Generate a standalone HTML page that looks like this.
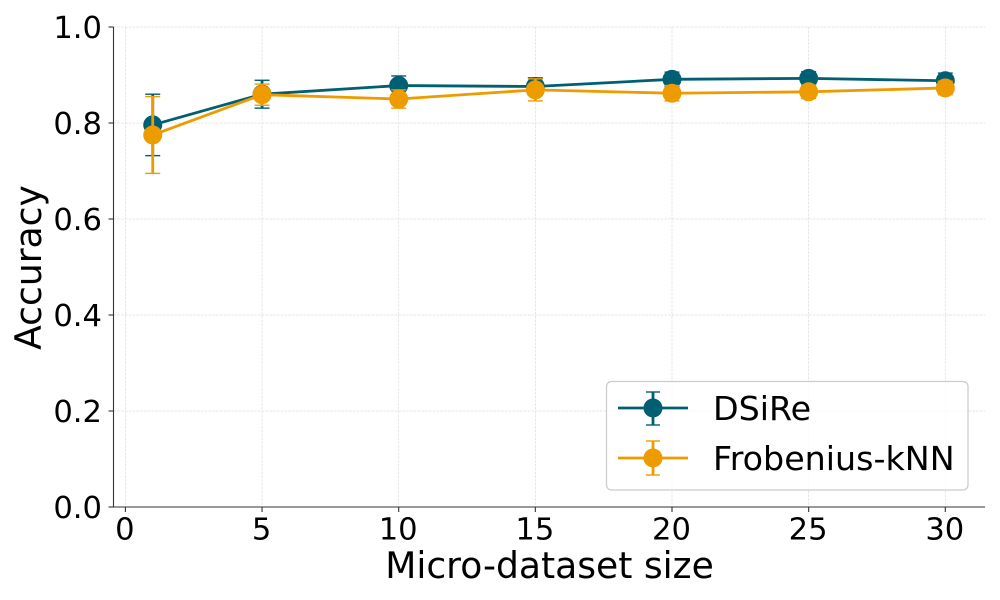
<!DOCTYPE html>
<html>
<head>
<meta charset="utf-8">
<style>
html,body{margin:0;padding:0;background:#fff;}
svg{display:block;}
text{font-family:"DejaVu Sans","Liberation Sans",sans-serif;fill:#000;}
</style>
</head>
<body>
<svg id="chart" width="1000" height="600" viewBox="0 0 1000 600" xmlns="http://www.w3.org/2000/svg">
  <g id="grid"></g>
  <g id="series"></g>
  <g id="axes"></g>
  <text x="549.5" y="578" font-size="36.1" text-anchor="middle">Micro-dataset size</text>
  <text x="0" y="0" font-size="36.1" text-anchor="middle" transform="translate(41,267.5) rotate(-90)">Accuracy</text>
  <g>
    <rect x="606.5" y="381.5" width="361.5" height="108.5" rx="5" ry="5" fill="#fff" fill-opacity="0.8" stroke="#ccc" stroke-width="1.3"/>
    <g>
      <line x1="618" x2="688" y1="408" y2="408" stroke="#005f73" stroke-width="2.8"/>
      <line x1="653" x2="653" y1="392" y2="425" stroke="#005f73" stroke-width="2.8"/>
      <line x1="646" x2="660" y1="392" y2="392" stroke="#005f73" stroke-width="1.4"/>
      <line x1="646" x2="660" y1="425" y2="425" stroke="#005f73" stroke-width="1.4"/>
      <circle cx="653" cy="408" r="9.5" fill="#005f73"/>
      <text x="713" y="420" font-size="33.3">DSiRe</text>
    </g>
    <g>
      <line x1="618" x2="688" y1="458" y2="458" stroke="#ee9b00" stroke-width="2.8"/>
      <line x1="653" x2="653" y1="441" y2="475" stroke="#ee9b00" stroke-width="2.8"/>
      <line x1="646" x2="660" y1="441" y2="441" stroke="#ee9b00" stroke-width="1.4"/>
      <line x1="646" x2="660" y1="475" y2="475" stroke="#ee9b00" stroke-width="1.4"/>
      <circle cx="653" cy="458" r="9.5" fill="#ee9b00"/>
      <text x="713" y="470" font-size="33.3">Frobenius-kNN</text>
    </g>
  </g>
</svg>
<script>
const sizes = [1, 5, 10, 15, 20, 25, 30];
const dsireAccuracy = [0.796, 0.860, 0.878, 0.876, 0.891, 0.893, 0.888];
const dsireError = [0.064, 0.029, 0.020, 0.018, 0.015, 0.014, 0.016];
const frobeniusAccuracy = [0.775, 0.859, 0.850, 0.869, 0.862, 0.865, 0.873];
const frobeniusError = [0.080, 0.022, 0.019, 0.023, 0.016, 0.014, 0.014];
const xTicks = [0, 5, 10, 15, 20, 25, 30];
const yTicks = [0.0, 0.2, 0.4, 0.6, 0.8, 1.0];

const NS = 'http://www.w3.org/2000/svg';
const plotLeft = 113.5, plotRight = 985, plotTop = 27, plotBottom = 507;
const xScale = function (v) { return 125.4 + v * 27.33; };
const yScale = function (v) { return plotBottom - v * (plotBottom - plotTop); };

function make(tag, attrs, parent) {
  const el = document.createElementNS(NS, tag);
  for (const k in attrs) el.setAttribute(k, attrs[k]);
  parent.appendChild(el);
  return el;
}

const gridLayer = document.getElementById('grid');
const axesLayer = document.getElementById('axes');
const seriesLayer = document.getElementById('series');

xTicks.forEach(function (t) {
  const x = xScale(t);
  const g = make('line', {x1: x, x2: x, y1: plotTop, y2: plotBottom, stroke: '#dcdcdc', 'stroke-width': 0.7, 'stroke-dasharray': '2.6 1.2'}, gridLayer);
  
  
  const tick = make('line', {x1: x, x2: x, y1: plotBottom, y2: plotBottom + 5, stroke: '#333', 'stroke-width': 1.1}, axesLayer);
  
  
  const label = make('text', {x: x - 0.5, y: 539.5, 'font-size': 30.6, 'text-anchor': 'middle'}, axesLayer);
  
  
  label.textContent = String(t);
});

yTicks.forEach(function (t) {
  const y = yScale(t);
  const g = make('line', {x1: plotLeft, x2: plotRight, y1: y, y2: y, stroke: '#dcdcdc', 'stroke-width': 0.7, 'stroke-dasharray': '2.6 1.2'}, gridLayer);
  
  
  const tick = make('line', {x1: plotLeft - 5, x2: plotLeft, y1: y, y2: y, stroke: '#333', 'stroke-width': 1.1}, axesLayer);
  
  
  const label = make('text', {x: 102, y: y + 11, 'font-size': 30.6, 'text-anchor': 'end'}, axesLayer);
  
  
  label.textContent = t.toFixed(1);
});

const leftSpine = make('line', {x1: plotLeft, x2: plotLeft, y1: plotTop, y2: plotBottom + 0.5, stroke: '#333', 'stroke-width': 1.1}, axesLayer);


const bottomSpine = make('line', {x1: plotLeft - 0.5, x2: plotRight, y1: plotBottom, y2: plotBottom, stroke: '#333', 'stroke-width': 1.1}, axesLayer);



function drawSeries(key, values, errors, color) {
  const group = make('g', {}, seriesLayer);
  
  
  sizes.forEach(function (s, i) {
    const x = xScale(s);
    const hi = yScale(values[i] + errors[i]);
    const lo = yScale(values[i] - errors[i]);
    const bar = make('line', {x1: x, x2: x, y1: hi, y2: lo, stroke: color, 'stroke-width': 2.8}, group);
    
    
    [hi, lo].forEach(function (cy) {
      const cap = make('line', {x1: x - 7.5, x2: x + 7.5, y1: cy, y2: cy, stroke: color, 'stroke-width': 1.4}, group);
      
      
    });
  });
  const pts = sizes.map(function (s, i) { return xScale(s) + ',' + yScale(values[i]); }).join(' ');
  const line = make('polyline', {points: pts, fill: 'none', stroke: color, 'stroke-width': 2.8, 'stroke-linejoin': 'round'}, group);
  
  
  sizes.forEach(function (s, i) {
    const dot = make('circle', {cx: xScale(s), cy: yScale(values[i]), r: 9.5, fill: color}, group);
    
    
  });
}

drawSeries('dsire', dsireAccuracy, dsireError, '#005f73');
drawSeries('frobenius-knn', frobeniusAccuracy, frobeniusError, '#ee9b00');
</script>
</body>
</html>
